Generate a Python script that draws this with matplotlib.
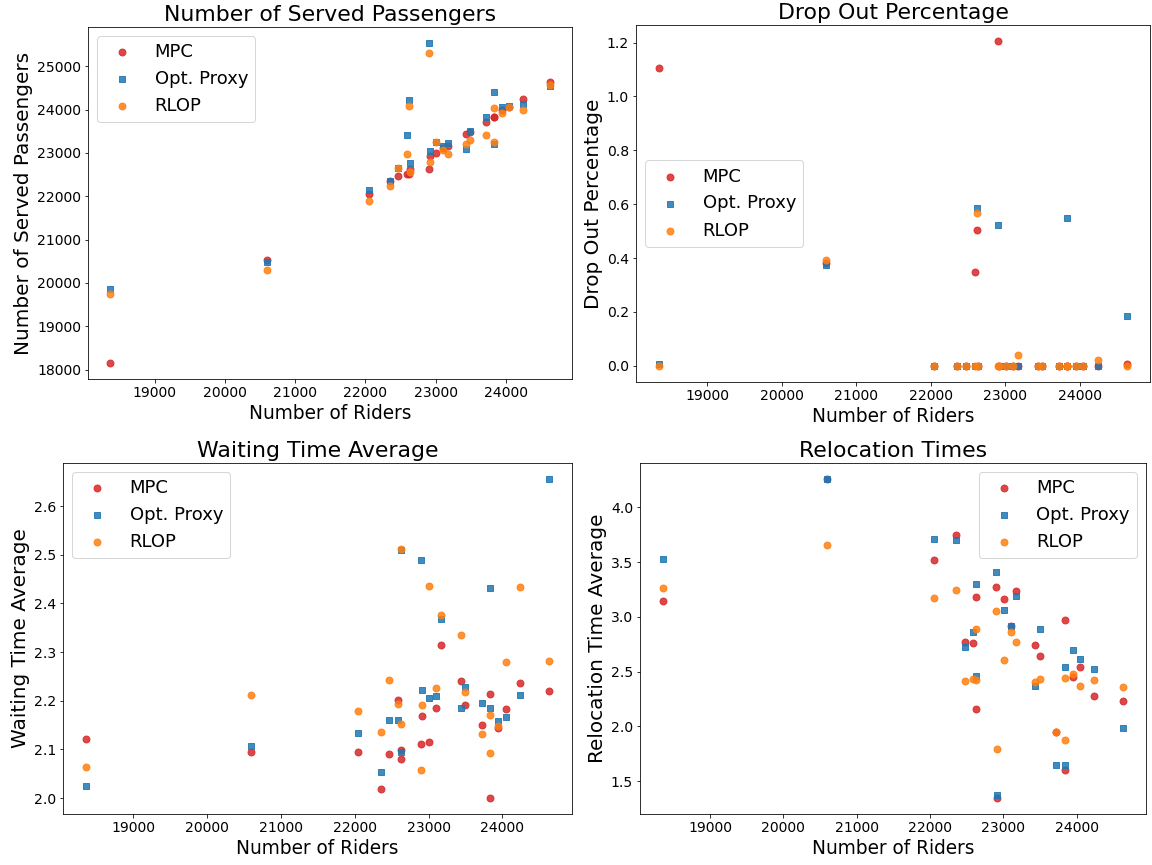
import matplotlib
matplotlib.use("Agg")
import matplotlib.pyplot as plt

riders = [18360, 20600, 22050, 22355, 22470, 22590, 22625, 22630, 22900, 22915, 23010,
          23105, 23175, 23435, 23495, 23720, 23835, 23835, 23945, 24045, 24240, 24630]

served_mpc = [18155, 20525, 22047, 22342, 22459, 22510, 22512, 22630, 22622, 22918, 23004,
              23110, 23160, 23432, 23485, 23705, 23830, 23830, 23985, 24055, 24241, 24631]
served_opt = [19860, 20490, 22150, 22350, 22660, 23417, 24227, 22778, 25534, 23050, 23250,
              23150, 23230, 23080, 23495, 23821, 24404, 23215, 24050, 24086, 24124, 24538]
served_rlop = [19751, 20288, 21883, 22226, 22655, 22966, 24070, 22553, 25301, 22786, 23253,
               23073, 22980, 23199, 23293, 23410, 24035, 23253, 23915, 24047, 24000, 24577]

drop_mpc = [1.105, 0.38, 0, 0, 0, 0.35, 0.5025, 0, 1.205, 0, 0,
            0, 0, 0, 0, 0, 0, 0, 0, 0, 0, 0.0075]
drop_opt = [0.006, 0.3725, 0, 0, 0, 0, 0.5875, 0, 0.524, 0, 0,
            0, 0, 0, 0, 0, 0.5475, 0, 0, 0, 0, 0.185]
drop_rlop = [0, 0.394, 0, 0, 0, 0, 0.569, 0, 0, 0, 0,
             0, 0.039, 0, 0, 0, 0, 0, 0, 0, 0.02, 0]

wait_mpc = [2.122, 2.094, 2.095, 2.019, 2.090, 2.201, 2.099, 2.080, 2.112, 2.169, 2.115,
            2.186, 2.314, 2.240, 2.192, 2.151, 2.214, 2.000, 2.144, 2.183, 2.236, 2.220]
wait_opt = [2.025, 2.107, 2.133, 2.0535, 2.160, 2.160, 2.510, 2.095, 2.490, 2.222, 2.206,
            2.210, 2.369, 2.185, 2.2285, 2.195, 2.431, 2.185, 2.158, 2.166, 2.2125, 2.656]
wait_rlop = [2.064, 2.2125, 2.178, 2.136, 2.242, 2.193, 2.512, 2.152, 2.058, 2.192, 2.436,
             2.226, 2.376, 2.335, 2.219, 2.132, 2.1715, 2.093, 2.149, 2.280, 2.434, 2.281]

reloc_mpc = [3.141, 4.258, 3.515, 3.748, 2.767, 2.758, 3.178, 2.156, 3.27, 1.347, 3.16,
             2.92, 3.239, 2.739, 2.647, 1.945, 2.975, 1.601, 2.454, 2.546, 2.282, 2.236]
reloc_opt = [3.528, 4.258, 3.706, 3.699, 2.721, 2.859, 3.298, 2.460, 3.405, 1.371, 3.067,
             2.92, 3.193, 2.368, 2.887, 1.647, 2.546, 1.644, 2.696, 2.613, 2.525, 1.982]
reloc_rlop = [3.267, 3.656, 3.175, 3.245, 2.417, 2.429, 2.890, 2.420, 3.055, 1.791, 2.607,
              2.862, 2.773, 2.405, 2.433, 1.945, 2.445, 1.874, 2.475, 2.371, 2.420, 2.362]

labels = ["MPC", "Opt. Proxy", "RLOP"]
titles = ["Number of Served Passengers", "Drop Out Percentage",
          "Waiting Time Average", "Relocation Times"]
ylabels = ["Number of Served Passengers", "Drop Out Percentage",
           "Waiting Time Average", "Relocation Time Average"]
xlabel = "Number of Riders"
xticks = [19000, 20000, 21000, 22000, 23000, 24000]

W, H = 1152, 865
fig = plt.figure(figsize=(W / 72, H / 72), dpi=72)

def box(l, t, r, b):
    return [l / W, (H - b) / H, (r - l) / W, (b - t) / H]

rects = [box(88, 27, 572, 379), box(636, 25, 1150, 382),
         box(63, 463, 572, 814), box(640, 463, 1146, 814)]
legend_locs = ["upper left", "center left", "upper left", "upper right"]
series = [(served_mpc, served_opt, served_rlop),
          (drop_mpc, drop_opt, drop_rlop),
          (wait_mpc, wait_opt, wait_rlop),
          (reloc_mpc, reloc_opt, reloc_rlop)]

for i in range(4):
    ax = fig.add_axes(rects[i])
    m, o, r = series[i]
    ax.scatter(riders, m, s=48, marker="o", color="tab:red", alpha=0.85, label=labels[0])
    ax.scatter(riders, o, s=48, marker="s", color="tab:blue", alpha=0.85, label=labels[1])
    ax.scatter(riders, r, s=48, marker="o", color="tab:orange", alpha=0.85, label=labels[2])
    ax.set_title(titles[i], fontsize=22)
    ax.set_xlabel(xlabel, fontsize=18.5)
    ax.set_ylabel(ylabels[i], fontsize=20)
    ax.set_xticks(xticks)
    ax.tick_params(labelsize=14)
    ax.legend(loc=legend_locs[i], fontsize=18)

fig.savefig("out.png", dpi=72)
